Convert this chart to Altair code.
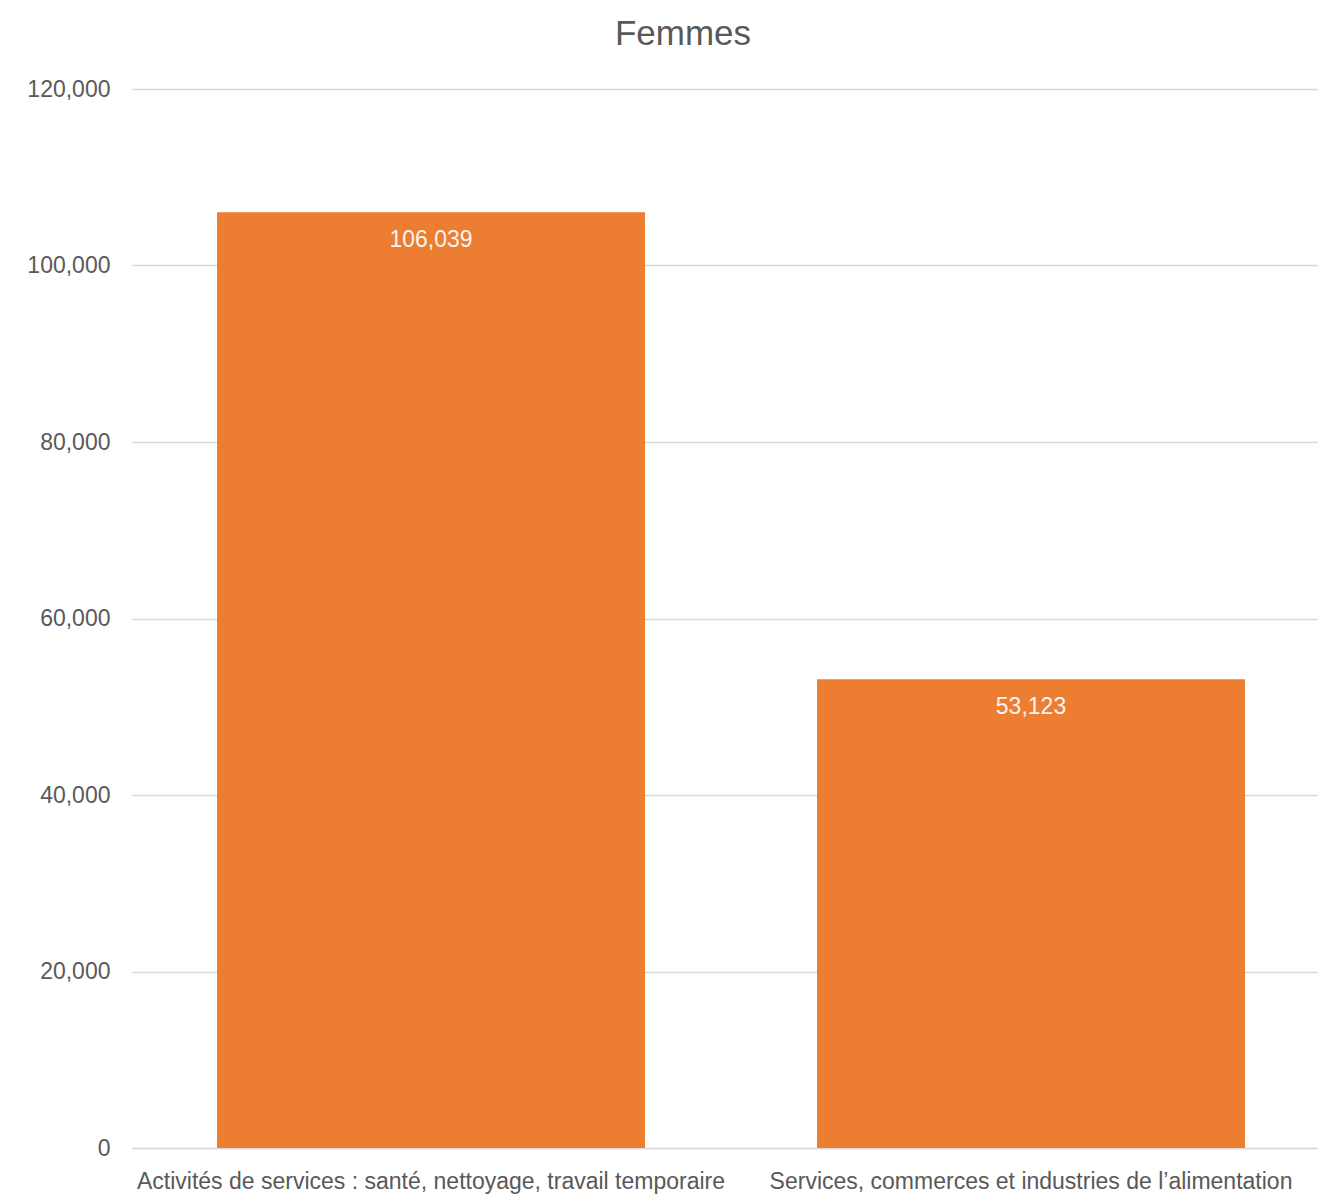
import altair as alt
import pandas as pd

categories = ["Activités de services : santé, nettoyage, travail temporaire",
              "Services, commerces et industries de l’alimentation"]
values = [106039, 53123]
y_ticks = [0, 20000, 40000, 60000, 80000, 100000, 120000]

df = pd.DataFrame({"cat": categories, "val": values})

FONT = "Liberation Sans"
GREY = "#595959"

base = alt.Chart(df).encode(
    x=alt.X("cat:N", sort=categories, title=None,
            scale=alt.Scale(paddingInner=0.2867, paddingOuter=0.1317, align=0.538),
            axis=alt.Axis(labelAngle=0, labelFontSize=23, labelColor=GREY, labelFont=FONT,
                          ticks=False, domainColor="#d9d9d9", domainWidth=1.5,
                          labelPadding=22, labelLimit=700)),
)

bars = base.mark_bar(color="#ED7D31").encode(
    y=alt.Y("val:Q", title=None,
            scale=alt.Scale(domain=[0, 120000], nice=False),
            axis=alt.Axis(values=y_ticks,
                          format=",.0f", labelFontSize=23, labelColor=GREY, labelFont=FONT,
                          ticks=False, domain=False, gridColor="#d9d9d9", gridWidth=1.5,
                          labelPadding=22)),
)

labels = base.mark_text(color="#f5f5f5", fontSize=23, font=FONT, baseline="middle", dy=28).encode(
    y=alt.Y("val:Q"),
    text=alt.Text("val:Q", format=",.0f"),
)

chart = (bars + labels).properties(
    width=1186, height=1059,
    title=alt.TitleParams("Femmes", fontSize=35, font=FONT, color=GREY, fontWeight="normal",
                          offset=26, dx=-42),
    padding={"left": 132, "top": 89, "right": 0, "bottom": 46},
    autosize=alt.AutoSizeParams(type="none"),
).configure_view(stroke=None)

chart.save("out.html", embed_options={"renderer": "svg", "actions": False})
